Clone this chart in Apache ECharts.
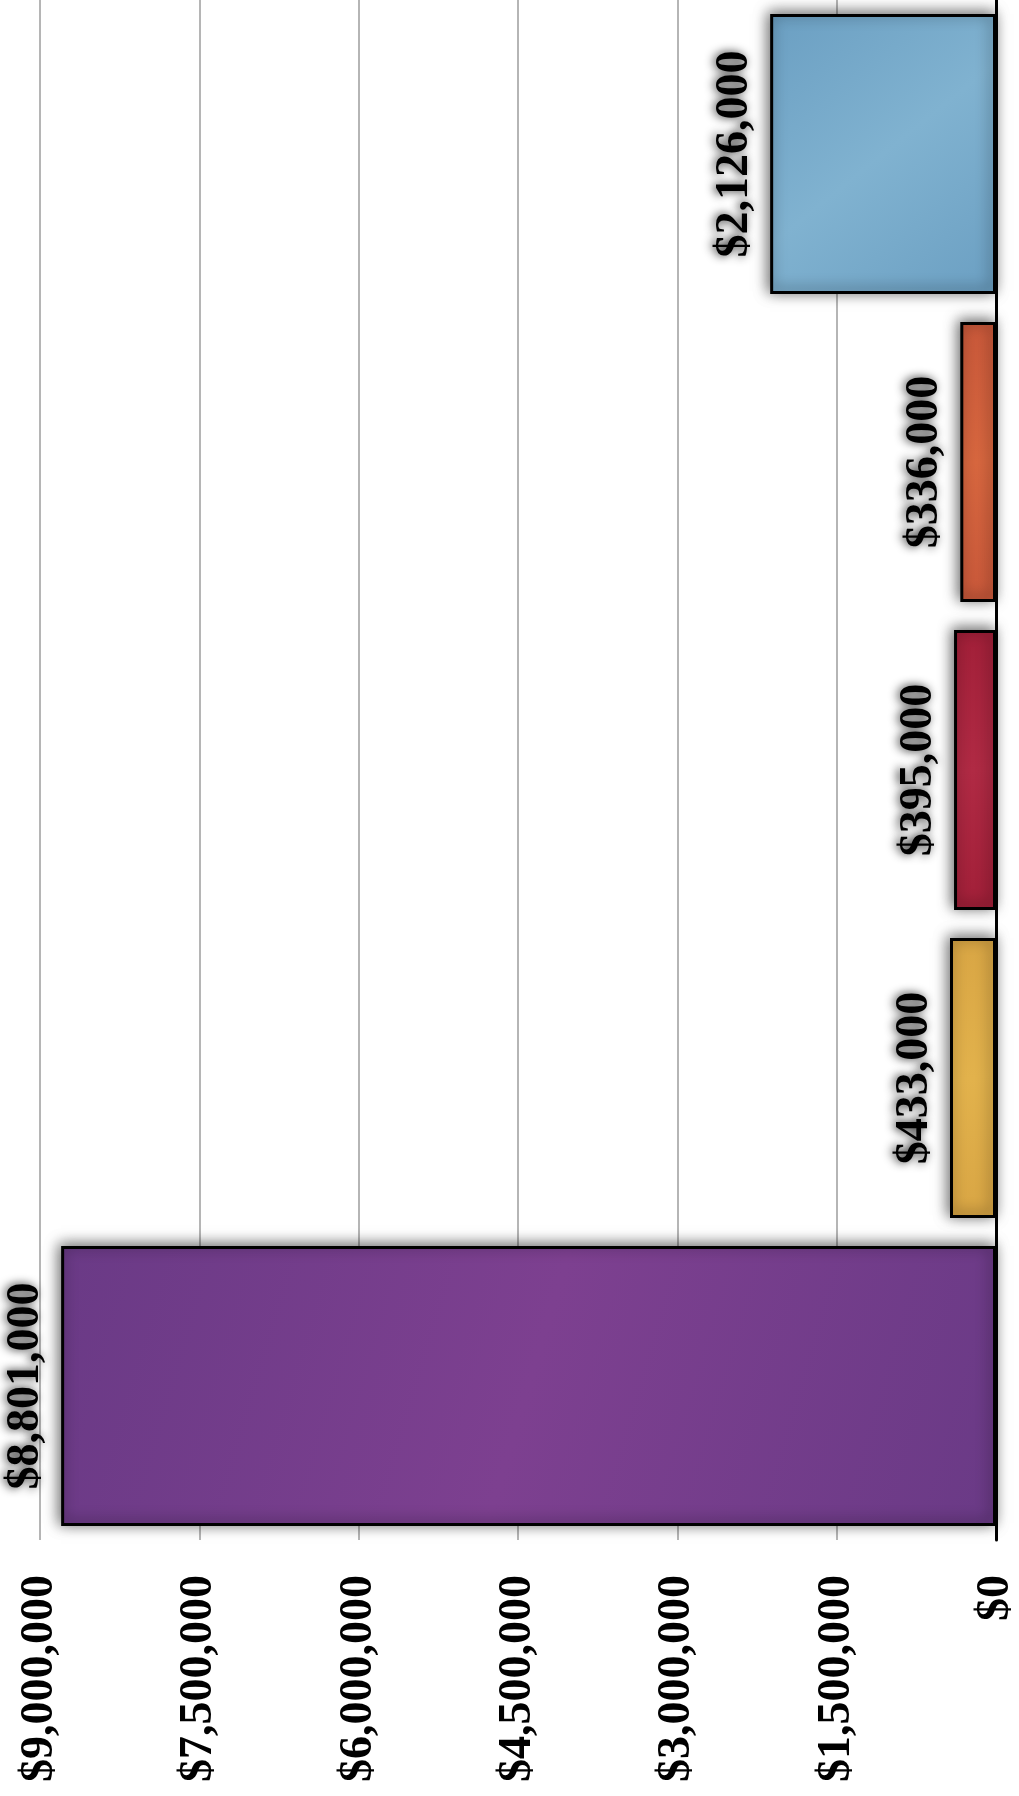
<!DOCTYPE html>
<html>
<head>
<meta charset="utf-8">
<title>Bar chart</title>
<script src="https://cdn.jsdelivr.net/npm/echarts@6/dist/echarts.min.js"></script>
<style>
  html, body { margin: 0; padding: 0; background: #fff; }
  #main { width: 1019px; height: 1796px; }
</style>
</head>
<body>
<div id="main"></div>
<script>
// data (chart is drawn turned on its side: value axis runs right to left)
var categories = ['Purple', 'Yellow', 'Red', 'Orange', 'Blue'];
var values = [8801000, 433000, 395000, 336000, 2126000];
var barColors = [
  ['#6a3a86', '#7d4090'],
  ['#d8a544', '#e2b24c'],
  ['#a11f38', '#b02a44'],
  ['#c9583a', '#d8673f'],
  ['#6b9fc2', '#80b2d0']
];
var tickMin = 0;
var tickMax = 9000000;
var tickStep = 1500000;

function money(v) {
  return '$' + Number(v).toLocaleString('en-US');
}

var serif = '"Liberation Serif", "Times New Roman", serif';

var chart = echarts.init(document.getElementById('main'));

var option = {
  backgroundColor: '#fff',
  animation: false,
  grid: {
    left: 40,
    right: 20,
    top: 0,
    bottom: 256
  },
  xAxis: {
    type: 'value',
    inverse: true,
    position: 'bottom',
    min: tickMin,
    max: tickMax,
    interval: tickStep,
    axisLine: { show: false },
    axisTick: { show: false },
    splitLine: { lineStyle: { color: '#b5b5b5', width: 2 } },
    axisLabel: {
      rotate: 90,
      margin: 35,
      formatter: money,
      color: '#000',
      fontFamily: serif,
      fontWeight: 'bold',
      fontSize: 46
    }
  },
  yAxis: {
    type: 'category',
    position: 'right',
    data: categories,
    axisLine: { show: true, lineStyle: { color: '#000', width: 3 } },
    axisTick: { show: false },
    axisLabel: { show: false },
    splitLine: { show: false }
  },
  series: [{
    type: 'bar',
    barWidth: 280,
    data: values.map(function (v, i) {
      return {
        value: v,
        itemStyle: {
          color: new echarts.graphic.LinearGradient(0, 0, 1, 1, [
            { offset: 0, color: barColors[i][0] },
            { offset: 0.5, color: barColors[i][1] },
            { offset: 1, color: barColors[i][0] }
          ])
        }
      };
    }),
    itemStyle: {
      borderColor: '#000',
      borderWidth: 3,
      shadowColor: 'rgba(0,0,0,0.6)',
      shadowBlur: 14,
      shadowOffsetX: -2,
      shadowOffsetY: -2
    },
    label: {
      show: true,
      position: 'left',
      distance: 12,
      rotate: 90,
      align: 'center',
      verticalAlign: 'bottom',
      formatter: function (p) { return money(p.value); },
      color: '#000',
      fontFamily: serif,
      fontWeight: 'bold',
      fontSize: 46,
      textShadowColor: 'rgba(0,0,0,0.85)',
      textShadowBlur: 10,
      textShadowOffsetX: -2,
      textShadowOffsetY: 0
    }
  }]
};

chart.setOption(option);
</script>
</body>
</html>
